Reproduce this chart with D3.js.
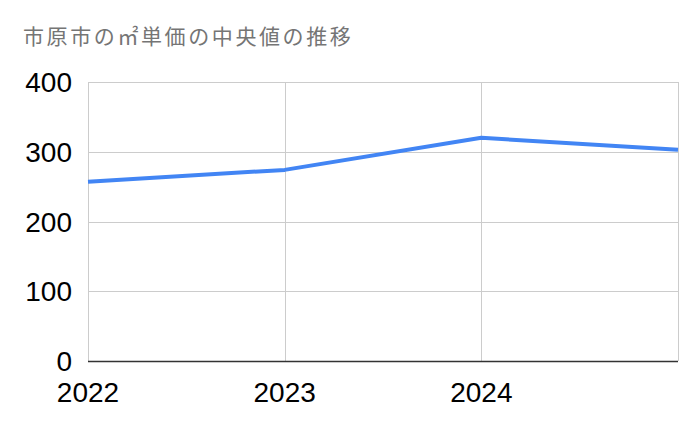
<!DOCTYPE html>
<html><head><meta charset="utf-8">
<script src="https://cdn.jsdelivr.net/npm/d3@7"></script>
<style>body{margin:0;background:#fff}svg{display:block}</style>
</head><body>
<script>
const years = ["2022","2023","2024","2025"];
const xTickLabels = ["2022","2023","2024"];
const values = [257, 274, 320, 303];
const yTicks = [0,100,200,300,400];
const title = "市原市の㎡単価の中央値の推移";

const W=700,H=433;
const m={l:88,r:22,t:82,b:72};
const svg=d3.select("body").append("svg").attr("width",W).attr("height",H);
const x=d3.scalePoint().domain(years).range([m.l,W-m.r]);
const y=d3.scaleLinear().domain([0,400]).range([H-m.b,m.t]);

svg.append("text").attr("x",23).attr("y",44).text(title)
  .attr("font-family","'Noto Sans CJK JP',sans-serif").attr("font-size",21)
  .attr("letter-spacing",2.6).attr("fill","#757575");

const g=svg.append("g");
g.selectAll(".hg").data(yTicks.filter(d=>d>0)).join("line")
  .attr("x1",m.l).attr("x2",W-m.r).attr("y1",d=>Math.round(y(d))+0.5).attr("y2",d=>Math.round(y(d))+0.5)
  .attr("stroke","#cccccc").attr("stroke-width",1);
g.selectAll(".vg").data(years).join("line")
  .attr("x1",d=>Math.round(x(d))+0.5).attr("x2",d=>Math.round(x(d))+0.5).attr("y1",m.t).attr("y2",H-m.b)
  .attr("stroke","#cccccc").attr("stroke-width",1);
g.append("line").attr("x1",m.l).attr("x2",W-m.r).attr("y1",Math.round(y(0))+0.5).attr("y2",Math.round(y(0))+0.5)
  .attr("stroke","#333333").attr("stroke-width",1.5);

svg.selectAll(".yl").data(yTicks).join("text")
  .attr("x",72).attr("y",d=>y(d)+10).attr("text-anchor","end")
  .attr("font-family","'Liberation Sans',Arial,sans-serif").attr("font-size",28).attr("fill","#000")
  .text(d=>d);
svg.selectAll(".xl").data(xTickLabels).join("text")
  .attr("x",d=>x(d)).attr("y",402).attr("text-anchor","middle")
  .attr("font-family","'Liberation Sans',Arial,sans-serif").attr("font-size",28).attr("fill","#000")
  .text(d=>d);

const line=d3.line().x((d,i)=>x(years[i])).y(d=>y(d));
svg.append("path").datum(values).attr("d",line).attr("fill","none")
  .attr("stroke","#4285F4").attr("stroke-width",4).attr("stroke-linejoin","round");
</script>
</body></html>
